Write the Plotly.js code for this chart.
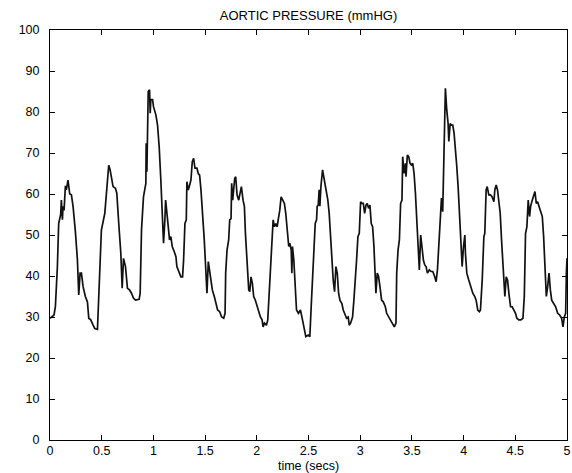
<!DOCTYPE html>
<html>
<head>
<meta charset="utf-8">
<script src="https://cdn.plot.ly/plotly-3.0.1.min.js"></script>
<style>html,body{margin:0;padding:0;background:#fff;}#chart{width:572px;height:473px;}</style>
</head>
<body>
<div id="chart"></div>
<script>
// Time (seconds) and aortic pressure (mmHg), in 6 segments
const time1 = [0, 0.013, 0.039, 0.052, 0.071, 0.084, 0.094, 0.103, 0.110, 0.120, 0.126, 0.136, 0.149, 0.158, 0.174, 0.191, 0.207, 0.223, 0.245, 0.265, 0.278, 0.291, 0.304, 0.320, 0.342, 0.362, 0.375, 0.394, 0.417, 0.433, 0.459, 0.472, 0.481, 0.497, 0.514, 0.530, 0.546, 0.556, 0.568, 0.581, 0.594, 0.610, 0.633, 0.646, 0.665, 0.685, 0.698, 0.711, 0.730, 0.749, 0.769, 0.788, 0.807, 0.827];
const pressure1 = [29.7, 30, 30.5, 32.5, 42, 52.8, 53.7, 55, 58.5, 53.7, 57, 56, 62, 61, 63.4, 60, 59.8, 57, 51, 44, 35.4, 40.7, 40.7, 37.4, 35, 33.7, 29.7, 29.3, 28, 27.2, 27, 35.8, 44.7, 51.2, 53.3, 55.3, 60.2, 64.2, 67, 65.9, 64.2, 61.8, 61.4, 60.2, 52.8, 45.5, 37, 44.3, 42.3, 37, 36.6, 35.8, 34.6, 34.1];

const time2 = [0.862, 0.872, 0.885, 0.904, 0.927, 0.930, 0.937, 0.943, 0.950, 0.963, 0.969, 0.975, 0.992, 1.001, 1.014, 1.024, 1.040, 1.056, 1.072, 1.085, 1.098, 1.111, 1.118, 1.131, 1.143, 1.156, 1.169, 1.182, 1.202, 1.218, 1.227, 1.247, 1.266, 1.282, 1.292, 1.305, 1.318, 1.324, 1.337, 1.347, 1.363, 1.376, 1.389, 1.402, 1.421, 1.434, 1.447, 1.460, 1.476, 1.492, 1.505, 1.518, 1.531, 1.544, 1.557, 1.570, 1.589, 1.605, 1.621, 1.641, 1.660];
const pressure2 = [34.3, 35.8, 51.2, 59.3, 62.6, 72.4, 65.4, 71.5, 85, 85.4, 79.7, 83, 83, 81.3, 80, 79.3, 76.8, 71.5, 63.4, 53.7, 48, 53.7, 58.5, 55.3, 52, 48.8, 49.6, 47.2, 45.9, 44.7, 42.3, 41, 39.8, 39.8, 43.9, 52.8, 53.7, 63, 61, 61.8, 63.4, 67.9, 68.7, 66.3, 66.3, 65, 64.6, 61, 55.3, 48.8, 42.3, 35.8, 43.5, 41.5, 39, 36.6, 35, 33.3, 31.7, 31.3, 30];

const time3 = [1.680, 1.693, 1.699, 1.712, 1.728, 1.738, 1.751, 1.757, 1.767, 1.776, 1.786, 1.796, 1.809, 1.825, 1.841, 1.851, 1.867, 1.880, 1.890, 1.906, 1.922, 1.932, 1.944, 1.957, 1.970, 1.986, 2.003, 2.019, 2.035, 2.051, 2.061, 2.074, 2.093, 2.106, 2.119, 2.132, 2.145, 2.158, 2.171, 2.183, 2.196, 2.209, 2.222, 2.235, 2.248, 2.267, 2.280, 2.293, 2.309, 2.319, 2.333, 2.339, 2.345, 2.358, 2.371, 2.384, 2.403, 2.422, 2.442, 2.455, 2.474];
const pressure3 = [29.7, 30.9, 40.7, 46.3, 48.8, 53.7, 54, 62.6, 58.5, 61, 63.8, 64.2, 59.8, 58.5, 61, 61.8, 58.5, 57, 50.4, 42.3, 36.6, 36.2, 39.8, 38.2, 35, 34.1, 32.5, 30.9, 30, 29.3, 27.6, 28.5, 28, 29.3, 35.8, 43, 48, 53.7, 52, 52.8, 52, 54, 56, 59.3, 58.5, 57.7, 55.3, 51.2, 47.2, 48, 46.3, 40.7, 47.2, 43.9, 39, 31.7, 30.9, 31.7, 29.3, 27.6, 25.2];

const time4 = [2.497, 2.513, 2.526, 2.539, 2.552, 2.565, 2.578, 2.584, 2.594, 2.603, 2.610, 2.620, 2.636, 2.649, 2.661, 2.674, 2.687, 2.700, 2.713, 2.726, 2.739, 2.752, 2.765, 2.778, 2.791, 2.804, 2.823, 2.836, 2.852, 2.868, 2.884, 2.894, 2.907, 2.926, 2.939, 2.952, 2.965, 2.978, 2.991, 3.004, 3.017, 3.030, 3.043, 3.056, 3.068, 3.081, 3.094, 3.107, 3.120, 3.133, 3.146, 3.152, 3.165, 3.178, 3.191, 3.207, 3.223, 3.243, 3.256, 3.275, 3.288, 3.304];
const pressure4 = [25.6, 25.2, 32.5, 39, 46.3, 52.8, 53.7, 57, 57.3, 61, 57, 61.8, 65.9, 64.2, 61.8, 60.2, 58.5, 55.3, 49.6, 42.3, 39, 36.2, 42.3, 40.7, 35.8, 34.1, 33.3, 31.7, 30.9, 29.7, 30, 28, 28.5, 30, 34.1, 40.7, 43.9, 49.6, 50.4, 58.1, 57.7, 57.7, 55.3, 57.3, 57.7, 56.5, 57.3, 52.8, 52, 47.2, 41.5, 35.8, 40.7, 39.8, 37.4, 34.1, 33.7, 32.5, 30.9, 30, 29.3, 28.5];

const time5 = [3.314, 3.330, 3.346, 3.353, 3.366, 3.379, 3.391, 3.404, 3.411, 3.424, 3.437, 3.443, 3.456, 3.469, 3.482, 3.495, 3.508, 3.521, 3.534, 3.547, 3.560, 3.572, 3.585, 3.598, 3.611, 3.624, 3.637, 3.650, 3.669, 3.685, 3.702, 3.721, 3.734, 3.747, 3.760, 3.773, 3.786, 3.798, 3.808, 3.818, 3.824, 3.837, 3.850, 3.857, 3.870, 3.882, 3.895, 3.908, 3.921, 3.934, 3.947, 3.960, 3.973, 3.986, 3.999, 4.012, 4.018, 4.031, 4.050, 4.070, 4.089, 4.108, 4.121, 4.137, 4.153];
const pressure5 = [28, 27.6, 28.5, 40.7, 46.3, 48.8, 57.7, 58.5, 69.1, 65, 67.5, 64.2, 69.5, 69.1, 67.5, 67.1, 67.5, 65, 60.2, 52.8, 44.7, 41.5, 50, 47.2, 43.9, 42.7, 42.3, 40.7, 41.5, 41.1, 41.1, 39.8, 38.6, 41.5, 47.2, 53.7, 59, 55.7, 67.5, 78.9, 85.8, 80.5, 77.2, 72.8, 77.2, 76.8, 76.8, 74.8, 71.5, 66.7, 61.8, 54.5, 48, 42.3, 47.2, 50, 45.5, 40.7, 39, 37.4, 35.8, 35, 34.1, 31.7, 31.3];

const time6 = [4.163, 4.180, 4.196, 4.205, 4.218, 4.228, 4.244, 4.260, 4.276, 4.293, 4.302, 4.315, 4.328, 4.341, 4.354, 4.367, 4.380, 4.399, 4.412, 4.425, 4.438, 4.454, 4.470, 4.486, 4.502, 4.515, 4.535, 4.554, 4.574, 4.587, 4.599, 4.612, 4.625, 4.638, 4.648, 4.664, 4.677, 4.690, 4.703, 4.716, 4.729, 4.748, 4.761, 4.774, 4.787, 4.800, 4.813, 4.826, 4.839, 4.852, 4.871, 4.890, 4.910, 4.929, 4.948, 4.961, 4.974, 4.987, 4.994, 5.0];
const pressure6 = [31.7, 39, 49.6, 50.4, 61, 61.8, 59.8, 59.8, 59.3, 58.1, 61, 62.2, 61, 58.5, 55.3, 48.8, 43.1, 35, 39.8, 39, 35.8, 32.5, 32.5, 31.7, 30.9, 29.7, 29.3, 29.3, 29.7, 35, 50.4, 52, 58.5, 54.5, 57, 58.5, 59.8, 60.6, 57.7, 58.1, 57, 55.7, 54.5, 49.6, 43.1, 35, 37.4, 40.7, 36.6, 34.1, 33.3, 32.5, 30.9, 30.5, 29.7, 27.6, 30, 30.9, 40.7, 44.3];

const xTicks = [0, 0.5, 1, 1.5, 2, 2.5, 3, 3.5, 4, 4.5, 5];
const xTickText = ['0', '0.5', '1', '1.5', '2', '2.5', '3', '3.5', '4', '4.5', '5'];
const yTicks = [0, 10, 20, 30, 40, 50, 60, 70, 80, 90, 100];

const time = [].concat(time1, time2, time3, time4, time5, time6);
const pressure = [].concat(pressure1, pressure2, pressure3, pressure4, pressure5, pressure6);

const font = '"Liberation Sans", Arial, Helvetica, sans-serif';

const trace = {
  x: time, y: pressure, type: 'scatter', mode: 'lines',
  line: {color: '#111111', width: 1.7},
  hoverinfo: 'skip', showlegend: false
};

const axisCommon = {
  showline: true, linecolor: '#000', linewidth: 1, mirror: 'ticks',
  ticks: 'inside', ticklen: 5, tickwidth: 1, tickcolor: '#000',
  showgrid: false, zeroline: false,
  tickfont: {family: font, size: 12.5, color: '#000'}
};

const layout = {
  width: 572, height: 473,
  margin: {l: 50, r: 5, t: 30, b: 33},
  paper_bgcolor: '#fff', plot_bgcolor: '#fff',
  font: {family: font, color: '#000'},
  title: {text: 'AORTIC PRESSURE (mmHG)', font: {family: font, size: 13, color: '#000'},
          x: 0.5, xref: 'paper', xanchor: 'center', y: 0.968, yref: 'container', yanchor: 'middle'},
  xaxis: Object.assign({}, axisCommon, {
    range: [0, 5], tickmode: 'array', tickvals: xTicks, ticktext: xTickText,
    ticklabelstandoff: -1,
    title: {text: 'time (secs)', font: {family: font, size: 12.5, color: '#000'}, standoff: 5}
  }),
  yaxis: Object.assign({}, axisCommon, {
    range: [0, 100], tickmode: 'array', tickvals: yTicks,
    ticklabelstandoff: 7
  })
};

Plotly.newPlot('chart', [trace], layout, {displayModeBar: false, staticPlot: true});
</script>
</body>
</html>
